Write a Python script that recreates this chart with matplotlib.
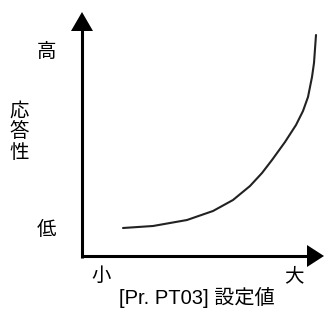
import matplotlib
matplotlib.use("Agg")
import matplotlib.pyplot as plt

plt.rcParams['font.family'] = ['Liberation Sans', 'Noto Sans CJK JP', 'DejaVu Sans']

# curve (origin of the axes at 0, 0)
setting = [41, 71, 105, 131, 151, 168, 180, 190, 203, 214, 221, 226, 230, 232, 234]
response = [28, 30, 36, 45, 56, 70, 83, 96, 114, 131, 145, 159, 179, 193, 221]

y_labels = ['低', '高']
y_label_pos = [26, 204]
x_labels = ['小', '大']
x_label_pos = [19, 212]
x_title = '[Pr. PT03] 設定値'
y_title = ['応', '答', '性']
y_title_pos = [144, 124, 103]

fig = plt.figure(figsize=(3.24, 3.09), dpi=100)
ax = fig.add_axes([0, 0, 1, 1])
ax.set_xlim(-82, 242)
ax.set_ylim(-53, 256)
ax.axis('off')

# axes with arrow heads
ax.plot([0, 0], [-1.5, 226], color='black', lw=2.2, solid_capstyle='butt')
ax.plot([-1.5, 226], [0, 0], color='black', lw=2.2, solid_capstyle='butt')
ax.fill([-11, 11, 0], [225, 225, 244], color='black', lw=0)
ax.fill([225, 225, 242], [-11, 11, 0], color='black', lw=0)

ax.plot(setting, response, color='#222222', lw=1.5,
        solid_joinstyle='round', solid_capstyle='round')

for lab, y in zip(y_labels, y_label_pos):
    ax.text(-36, y, lab, fontsize=14, ha='center', va='center')
for lab, x in zip(x_labels, x_label_pos):
    ax.text(x, -20, lab, fontsize=14, ha='center', va='center')

# vertical title, one character per line
for ch, y in zip(y_title, y_title_pos):
    ax.text(-63, y, ch, fontsize=14, ha='center', va='center')
ax.text(115, -41, x_title, fontsize=14.5, ha='center', va='center')

fig.savefig('out.png', dpi=100)
